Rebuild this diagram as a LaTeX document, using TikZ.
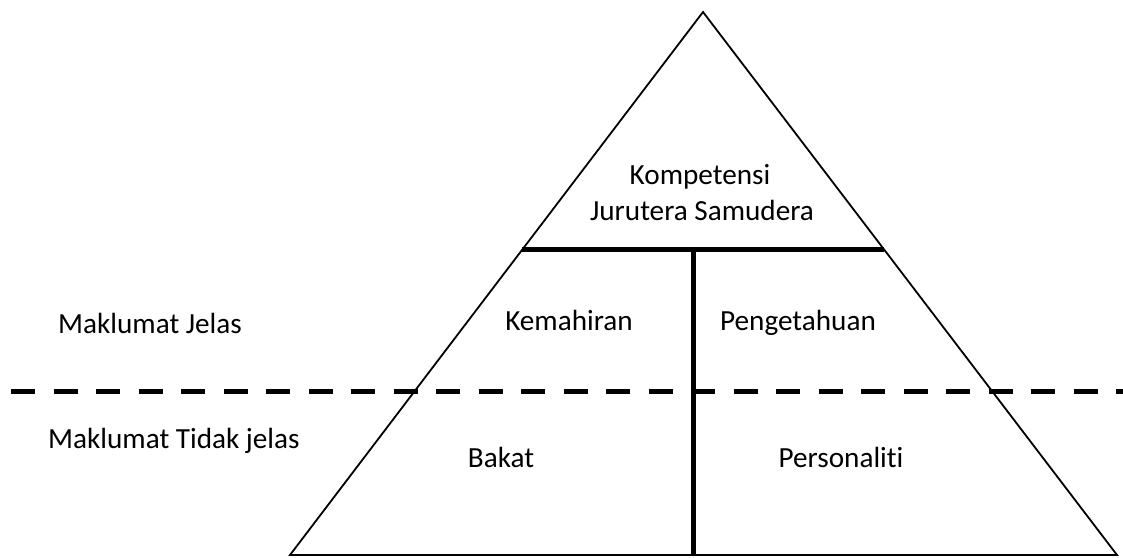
\documentclass[tikz,border=0pt]{standalone}
\usepackage{fontspec}
\setmainfont[Ligatures={NoCommon}]{Carlito}
\usetikzlibrary{calc}
\begin{document}
\begin{tikzpicture}[x=1pt,y=-1pt,
  outline/.style={line width=1.8pt, line join=miter},
  divider/.style={line width=5pt},
  boundary/.style={line width=5pt, dash pattern=on 24pt off 18.5pt},
  lbl/.style={inner sep=0pt, font=\fontsize{29.2}{35}\selectfont}]
\useasboundingbox (0,0) rectangle (1123,557);
\coordinate (apex) at (703,12);
\coordinate (bl) at (290,555);
\coordinate (br) at (1117,555);
\draw[outline] (apex) -- (bl) -- (br) -- cycle;
\coordinate (hl) at ($(bl)!0.5617!(apex)$);
\coordinate (hr) at ($(br)!0.5617!(apex)$);
\draw[divider] (hl) -- (hr);
\coordinate (vt) at (693,250);
\coordinate (vb) at (693,555);
\draw[divider] (vt) -- (vb);
\coordinate (dl) at (11,391);
\coordinate (dr) at (1123,391);
\draw[boundary] (dl) -- (dr);
\node[lbl, anchor=base] (komp) at (700,184) {Kompetensi};
\node[lbl, anchor=base] (juru) at (702,220) {Jurutera Samudera};
\node[lbl, anchor=base west] (jelas) at (58,333) {Maklumat Jelas};
\node[lbl, anchor=base west] (tidak) at (48,448) {Maklumat Tidak jelas};
\node[lbl, anchor=base] (kem) at (569,330) {Kemahiran};
\node[lbl, anchor=base] (peng) at (798,330) {Pengetahuan};
\node[lbl, anchor=base] (bakat) at (501,467) {Bakat};
\node[lbl, anchor=base] (pers) at (841,467) {Personaliti};
\end{tikzpicture}
\end{document}
